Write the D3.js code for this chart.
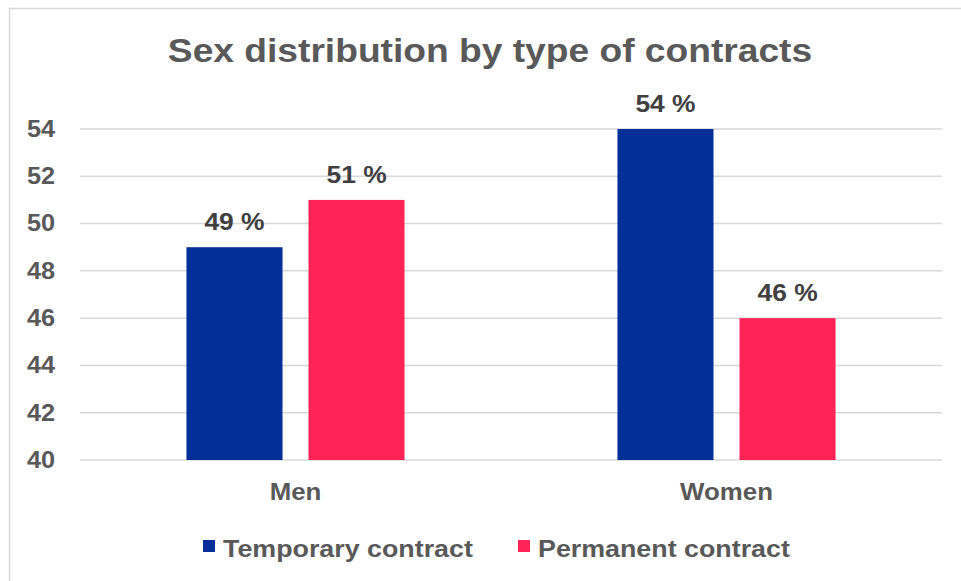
<!DOCTYPE html>
<meta charset="utf-8">
<script src="https://d3js.org/d3.v7.min.js"></script>
<style>
  body { margin: 0; background: #fff; }
  text { font-family: "Liberation Sans", Arial, sans-serif; font-weight: bold; fill: #595959; }
</style>
<div id="chart"></div>
<script>
    const categories = ["Men", "Women"];
    const seriesNames = ["Temporary contract", "Permanent contract"];
    const temporary = [49, 54];
    const permanent = [51, 46];
    const yTicks = [40, 42, 44, 46, 48, 50, 52, 54];

    const W = 961, H = 581;
    const margin = {top: 129, right: 19, bottom: 121, left: 80},
        width = W - margin.left - margin.right,
        height = H - margin.top - margin.bottom;

    const colors = {"Temporary contract": "#032f98", "Permanent contract": "#fe2458"};
    const sx = 1.1; // text in the original is slightly stretched horizontally

    const root = d3.select("#chart").append("svg")
        .attr("width", W)
        .attr("height", H);

    // chart border
    root.append("rect")
        .attr("x", 9.5).attr("y", 8.5)
        .attr("width", W + 20).attr("height", H + 20)
        .attr("fill", "none")
        .attr("stroke", "#d9d9d9")
        .attr("stroke-width", 1.5);

    root.append("text")
        .attr("transform", `translate(490,62) scale(${sx},1)`)
        .attr("text-anchor", "middle")
        .style("font-size", "33.8px")
        .text("Sex distribution by type of contracts");

    const svg = root.append("g")
        .attr("transform", `translate(${margin.left},${margin.top})`);

    const y = d3.scaleLinear().domain([40, 54]).range([height, 0]);

    const x0 = d3.scaleBand().domain(categories).range([0, width])
        .paddingInner(0.494).paddingOuter(0.247);
    const x1 = d3.scaleBand().domain(seriesNames).range([0, x0.bandwidth()])
        .paddingInner(0.213).paddingOuter(0);

    // grid
    svg.append("g")
        .selectAll("line")
        .data(yTicks)
        .join("line")
        .attr("x1", 0).attr("x2", width)
        .attr("y1", d => y(d)).attr("y2", d => y(d))
        .attr("stroke", "#d9d9d9")
        .attr("stroke-width", 1.5);

    // y axis labels
    const yAxis = svg.append("g")
        .call(d3.axisLeft(y).tickValues(yTicks).tickSize(0).tickPadding(22.7));
    yAxis.select(".domain").remove();
    yAxis.selectAll("text")
        .style("font-size", "23px")
        .attr("fill", "#595959")
        .attr("transform", `scale(${sx},1)`);

    const rows = categories.map((c, i) => ({
        cat: c,
        vals: [{s: seriesNames[0], v: temporary[i]}, {s: seriesNames[1], v: permanent[i]}]
    }));

    const groups = svg.selectAll(".grp")
        .data(rows)
        .join("g")
        .attr("transform", d => `translate(${x0(d.cat)},0)`);

    groups.selectAll("rect")
        .data(d => d.vals)
        .join("rect")
        .attr("x", d => x1(d.s))
        .attr("y", d => y(d.v))
        .attr("width", x1.bandwidth())
        .attr("height", d => height - y(d.v))
        .attr("fill", d => colors[d.s]);

    groups.selectAll(".lbl")
        .data(d => d.vals)
        .join("text")
        .attr("class", "lbl")
        .attr("transform", d => `translate(${x1(d.s) + x1.bandwidth() / 2},${y(d.v) - 17}) scale(${sx},1)`)
        .attr("text-anchor", "middle")
        .style("font-size", "24px")
        .style("fill", "#404040")
        .text(d => d.v + " %");

    // x axis
    const xAxis = svg.append("g")
        .attr("transform", `translate(0,${height})`)
        .call(d3.axisBottom(x0).tickSize(0).tickPadding(23));
    xAxis.select(".domain").remove();
    xAxis.selectAll("text")
        .style("font-size", "23.5px")
        .attr("fill", "#595959")
        .attr("transform", `scale(${sx},1)`);

    // legend
    const legendX = [203, 518];
    const legend = root.append("g")
        .selectAll("g")
        .data(seriesNames)
        .join("g")
        .attr("transform", (d, i) => `translate(${legendX[i]},546)`);
    legend.append("rect")
        .attr("x", 0).attr("y", -6)
        .attr("width", 12).attr("height", 12)
        .attr("fill", d => colors[d]);
    legend.append("text")
        .attr("transform", `translate(20,11) scale(${sx},1)`)
        .style("font-size", "24.4px")
        .text(d => d);
</script>
